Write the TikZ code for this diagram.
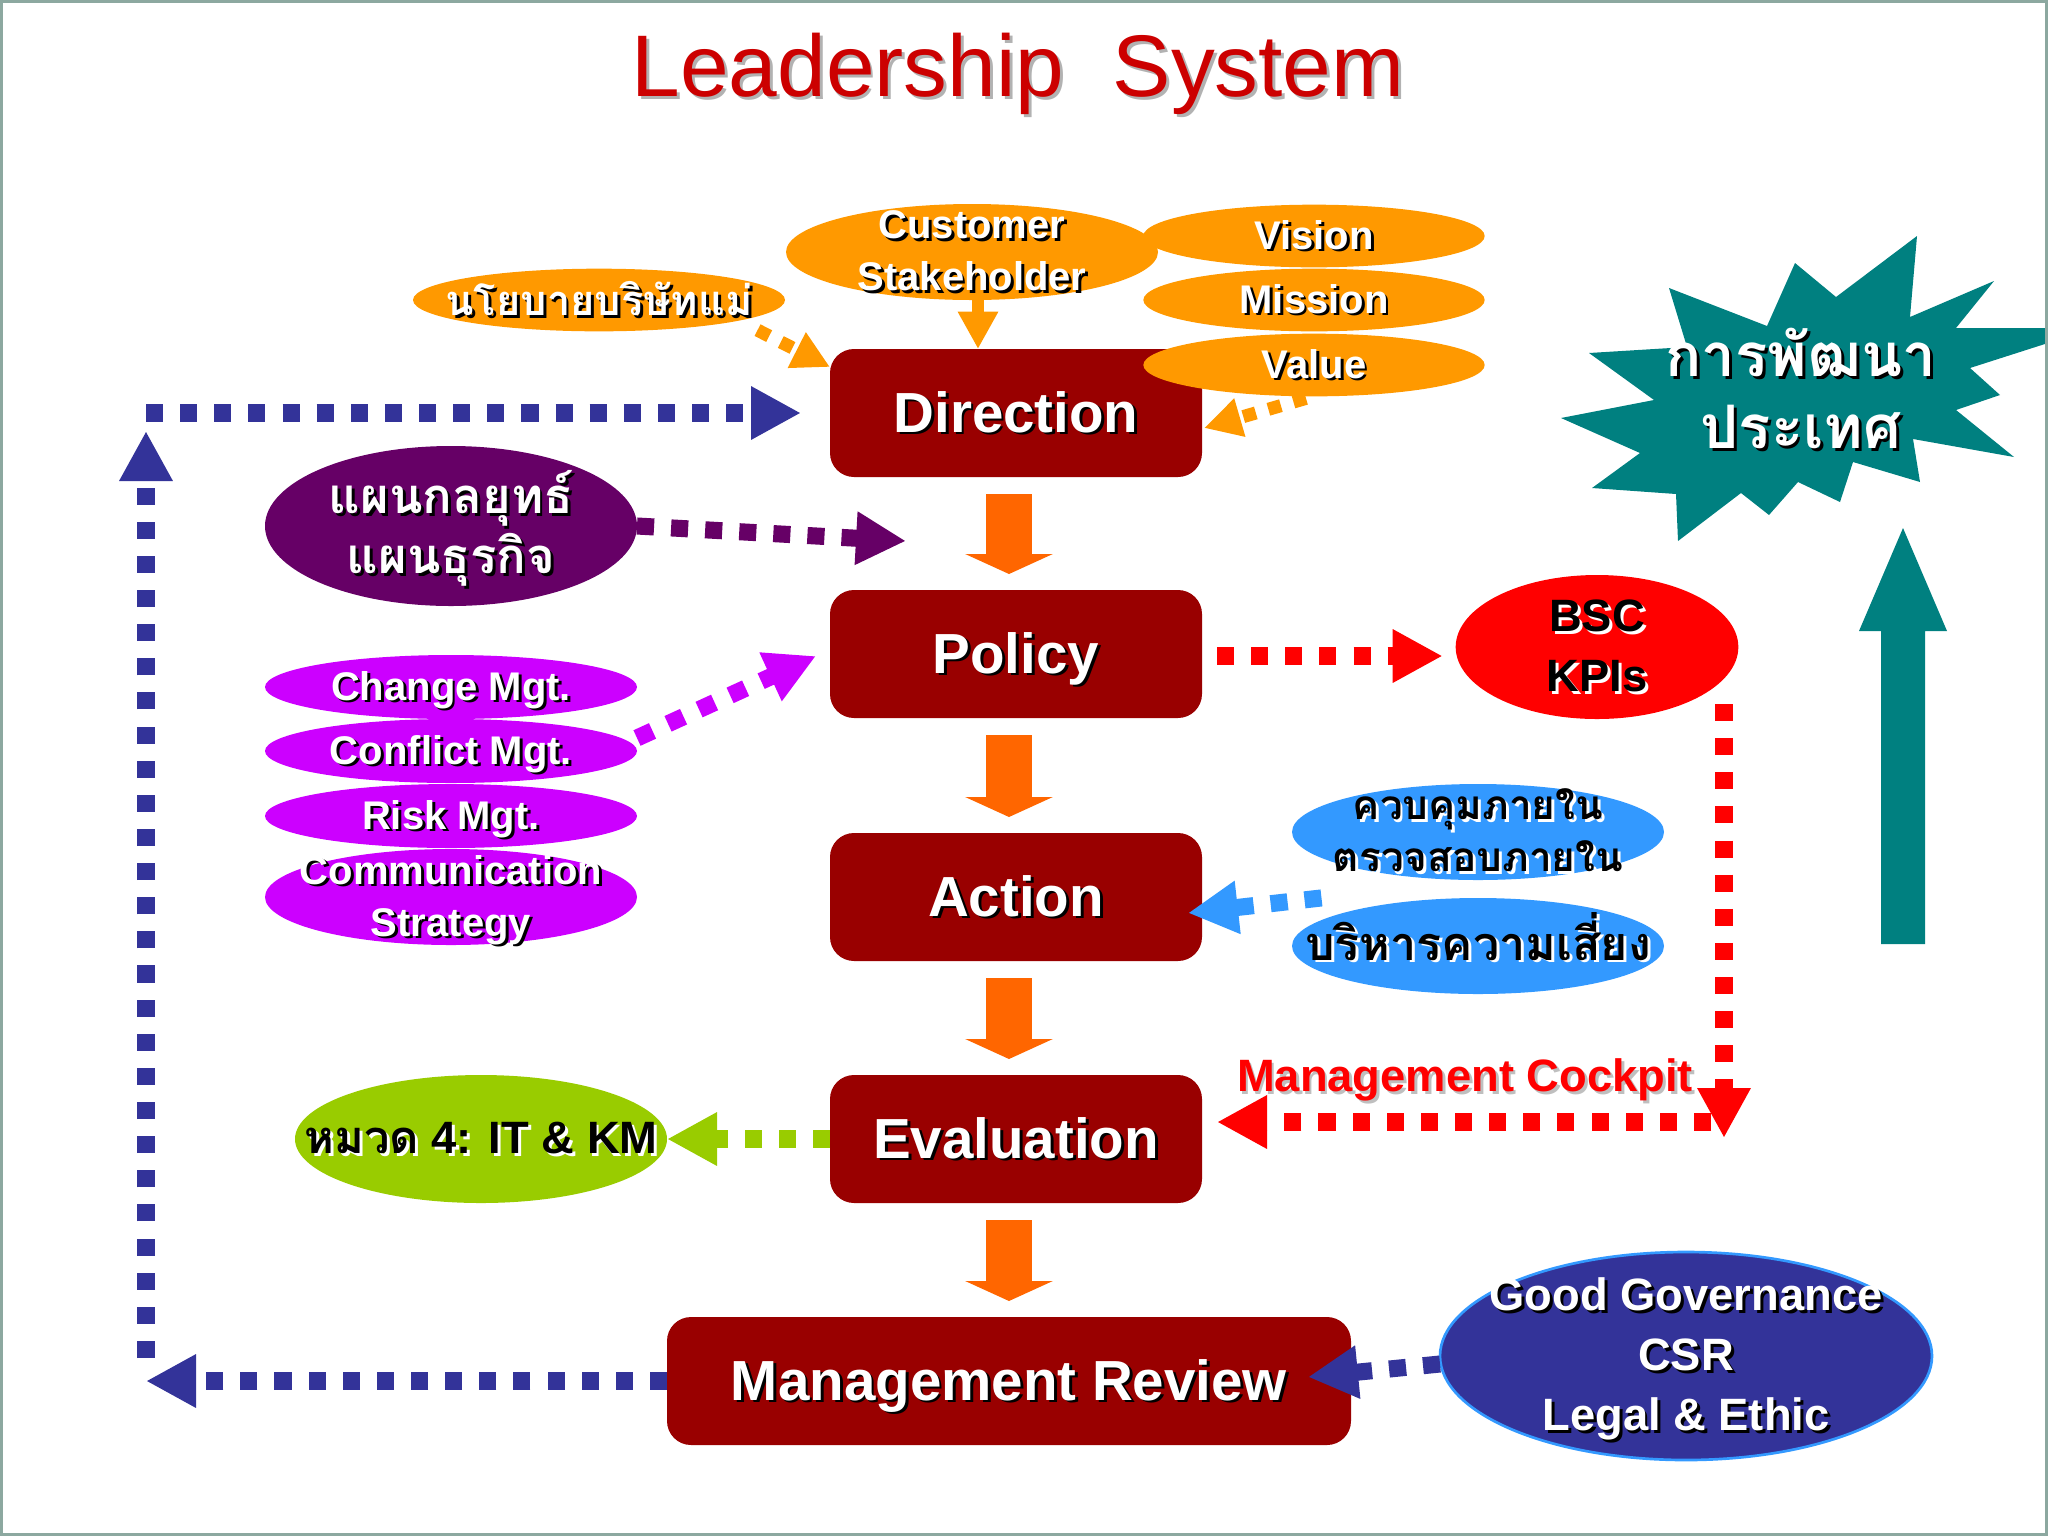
\documentclass[tikz,border=0pt]{standalone}
\usepackage{fontspec}
\setmainfont{Liberation Sans}
\newfontfamily\thaifont[Script=Thai]{Loma}
\usetikzlibrary{arrows.meta,shapes.geometric}
\definecolor{boxred}{HTML}{990000}
\definecolor{titlered}{HTML}{CC0000}
\definecolor{pureorange}{HTML}{FF9900}
\definecolor{blockorange}{HTML}{FF6600}
\definecolor{navyblue}{HTML}{333399}
\definecolor{plumdark}{HTML}{660066}
\definecolor{vivid}{HTML}{CC00FF}
\definecolor{skyblue}{HTML}{3399FF}
\definecolor{limegreen}{HTML}{99CC00}
\definecolor{tealbase}{HTML}{008080}
\definecolor{framegrey}{HTML}{8CA8A0}
\newcommand{\shtext}[2][black]{\leavevmode\raisebox{0pt}[\height][1.1pt]{\rlap{\kern1.1pt\raisebox{-1.1pt}{\textcolor{#1}{#2}}}#2}}
\newcommand{\thai}[1]{{\thaifont #1}}
\tikzset{
  stagebox/.style={rectangle,rounded corners=9pt,fill=boxred,text=white,minimum height=48pt,
    inner sep=0pt,outer sep=0pt,font=\fontsize{21.2}{25}\selectfont\bfseries},
  oval/.style={ellipse,inner sep=-300pt,outer sep=0pt,align=center,text=white,minimum width=139.5pt,
    font=\fontsize{15}{19.5}\selectfont\bfseries},
  dotline/.style={line width=#1,dash pattern={on #1 off #1}},
  dotline/.default=6.4pt,
  bigtip/.style={-{Triangle[length=18.75pt,width=18.75pt]}},
  smalltip/.style={-{Triangle[length=14pt,width=14pt]}},
  blockarrow/.style={blockorange,line width=16.9pt,-{Triangle[length=7.5pt,width=32.6pt]}},
}
\begin{document}
\begin{tikzpicture}[x=0.75pt,y=0.75pt,yscale=-0.5,xscale=0.5]
\useasboundingbox (0,0) rectangle (2048,1536);

% Text Node
\node[text=titlered,font=\fontsize{32.8}{38}\selectfont] (title) at (1018,66) {\shtext[black!30]{Leadership\ \ System}};

%Shape: Star
\fill[tealbase] (1917,236) -- (1910,317) -- (1994,281) -- (1956,328) -- (2048,328) -- (2048,343) -- (1970,368) -- (2000,395) -- (1956,410) -- (2014,457) -- (1913,439) -- (1920,482) -- (1853,462) -- (1840,502) -- (1798,482) -- (1769,515) -- (1741,493) -- (1678,541) -- (1676,494) -- (1592,488) -- (1640,453) -- (1561,418) -- (1654,400) -- (1589,353) -- (1687,347) -- (1669,288) -- (1767,326) -- (1795,263) -- (1836,297) -- cycle;
% Text Node
\node[align=center,text=white,font=\fontsize{22.5}{27}\selectfont\bfseries] (develop) at (1801,390)
  {\shtext{\thai{การพัฒนา}}\\\shtext{\thai{ประเทศ}}};

%Shape: Up Arrow
\fill[tealbase] (1903,528) -- (1947,631) -- (1925,631) -- (1925,944) -- (1881,944) -- (1881,631) -- (1859,631) -- cycle;

%Rounded Rect
\node[stagebox,minimum width=139.5pt] (direction) at (1016,413) {\shtext{Direction}};
\node[stagebox,minimum width=139.5pt] (policy) at (1016,654) {\shtext{Policy}};
\node[stagebox,minimum width=139.5pt] (action) at (1016,897) {\shtext{Action}};
\node[stagebox,minimum width=139.5pt] (evaluation) at (1016,1139) {\shtext{Evaluation}};
\node[stagebox,minimum width=256.5pt] (review) at (1009,1381) {\shtext{Management Review}};

%Block Arrows
\draw[blockarrow] ([shift={(-7,17)}]direction.south) -- ([shift={(-7,-16)}]policy.north);
\draw[blockarrow] ([shift={(-7,17)}]policy.south) -- ([shift={(-7,-16)}]action.north);
\draw[blockarrow] ([shift={(-7,17)}]action.south) -- ([shift={(-7,-16)}]evaluation.north);
\draw[blockarrow] ([shift={(-7,17)}]evaluation.south) -- ([shift={(0,-16)}]review.north);

%Shape: Ellipse
\node[oval,fill=pureorange,minimum height=36pt] (customer) at (972,252) {\shtext{Customer}\\\shtext{Stakeholder}};
\node[oval,fill=pureorange,minimum width=128pt,minimum height=23.5pt] (vision) at (1314,236) {\shtext{Vision}};
\node[oval,fill=pureorange,minimum width=128pt,minimum height=23.5pt] (mission) at (1314,300) {\shtext{Mission}};
\node[oval,fill=pureorange,minimum width=128pt,minimum height=23.5pt] (value) at (1314,365) {\shtext{Value}};
\node[oval,fill=pureorange,minimum height=23.5pt,font=\fontsize{15.6}{19.5}\selectfont\bfseries] (parent) at (599,300) {\shtext{\thai{นโยบายบริษัทแม่}}};
\node[oval,fill=plumdark,minimum height=60pt,font=\fontsize{18.4}{22.5}\selectfont\bfseries] (strategy) at (451,526) {\shtext{\thai{แผนกลยุทธ์}}\\\shtext{\thai{แผนธุรกิจ}}\rule[-3pt]{0pt}{0pt}};
\node[oval,fill=vivid,minimum height=24pt] (change) at (451,687) {\shtext{Change Mgt.}};
\node[oval,fill=vivid,minimum height=24pt] (conflict) at (451,751) {\shtext{Conflict Mgt.}};
\node[oval,fill=vivid,minimum height=24pt] (risk) at (451,816) {\shtext{Risk Mgt.}};
\node[oval,fill=vivid,minimum height=36pt] (comm) at (451,897) {\shtext{Communication}\\\shtext{Strategy}};
\node[oval,fill=limegreen,text=black,minimum height=48pt,font=\fontsize{17}{22}\selectfont\bfseries] (kmcat) at (481,1139) {\shtext[white]{\thai{หมวด} 4: IT \& KM}};
\node[oval,fill=red,text=black,minimum width=106pt,minimum height=54pt,font=\fontsize{17}{22.5}\selectfont\bfseries] (bsc) at (1597,647) {\shtext[white]{BSC}\\\shtext[white]{KPIs}};
\node[oval,fill=skyblue,text=black,minimum height=36pt,font=\fontsize{15.2}{19.5}\selectfont\bfseries] (control) at (1478,832) {\shtext[white]{\thai{ควบคุมภายใน}}\\\shtext[white]{\thai{ตรวจสอบภายใน}}};
\node[oval,fill=skyblue,text=black,minimum height=36pt,font=\fontsize{17.5}{22}\selectfont\bfseries] (riskmgt) at (1478,946) {\raisebox{0pt}[10.5pt][0pt]{\shtext[white]{\thai{บริหารความเสี่ยง}}}};
\node[oval,fill=navyblue,draw=skyblue,line width=1pt,minimum width=184.5pt,minimum height=78pt,font=\fontsize{17}{22.5}\selectfont\bfseries] (govern) at (1686,1356)
  {\shtext{Good Governance}\\\shtext{CSR}\\\shtext{Legal \& Ethic}};

% Text Node
\node[text=red,font=\fontsize{17}{22}\selectfont\bfseries] (cockpit) at (1465,1077) {\shtext[black!25]{Management Cockpit}};

%Straight Lines
\coordinate (bottomleft) at (146,1381);
\coordinate (topleft) at (146,413);
\coordinate (policygap) at (906,541);
\draw[pureorange,dotline=4.9pt,smalltip] ([shift={(27,8)}]parent.south east) -- ([shift={(0,18)}]direction.north west);
\draw[pureorange,dotline=4.5pt,-{Triangle[length=14pt,width=14.2pt]}] ([shift={(6,0)}]customer.south) -- ([shift={(-38,0)}]direction.north);
\draw[pureorange,dotline=4.9pt,smalltip] ([shift={(-8,2)}]value.south) -- ([shift={(2,15)}]direction.east);
\draw[navyblue,dotline,bigtip] (review.west) -- (bottomleft);
\draw[navyblue,dotline,bigtip] ([shift={(0,-23)}]bottomleft) -- ([shift={(0,18)}]topleft);
\draw[navyblue,dotline,bigtip] (topleft) -- ([shift={(-29,0)}]direction.west);
\draw[plumdark,dotline,bigtip] (strategy.east) -- (policygap);
\draw[vivid,dotline,bigtip] ([shift={(0,-13)}]conflict.east) -- ([shift={(-14,2)}]policy.west);
\draw[red,dotline,bigtip] ([shift={(15,2)}]policy.east) -- ([shift={(-13,2)}]bsc.west |- policy.east);
\draw[red,dotline,bigtip] ([shift={(127,-15)}]bsc.south) -- ([shift={(127,419)}]bsc.south);
\draw[red,dotline,bigtip] ([shift={(509,-17)}]evaluation.east) -- ([shift={(15,-17)}]evaluation.east);
\draw[skyblue,dotline,bigtip] ([shift={(-25,32)}]control.south west) -- ([shift={(-14,16)}]action.east);
\draw[limegreen,dotline,bigtip] (evaluation.west) -- (kmcat.east);
\draw[navyblue,dotline,bigtip] ([shift={(0,8)}]govern.west) -- ([shift={(-43,-4)}]review.east);

%Frame
\draw[framegrey,line width=1.1pt] (1.5,1.5) rectangle (2046.5,1534.5);
\end{tikzpicture}
\end{document}
